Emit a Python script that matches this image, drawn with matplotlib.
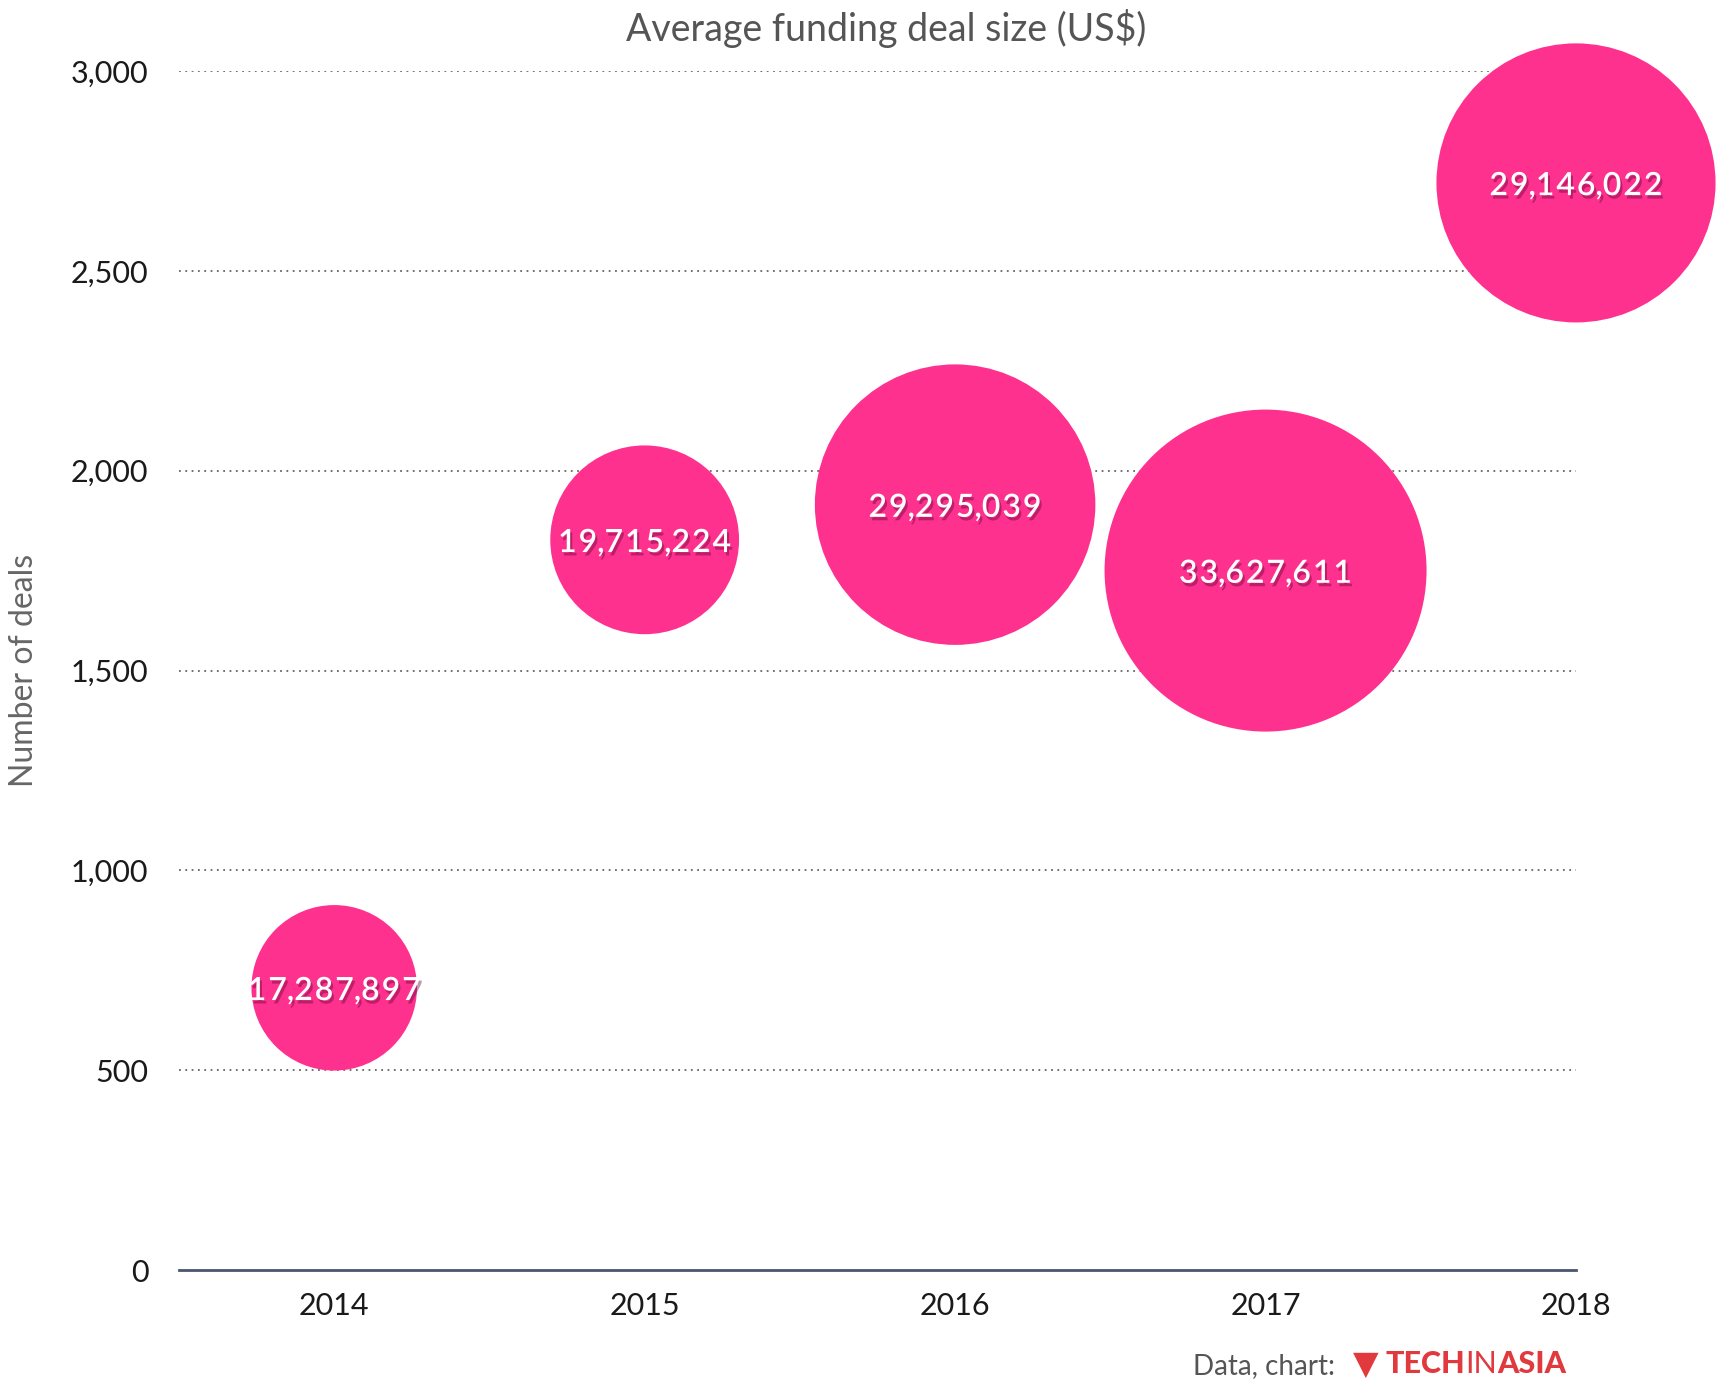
import numpy as np
import matplotlib
matplotlib.use("Agg")
import matplotlib.pyplot as plt
import matplotlib.patheffects as pe
from matplotlib.ticker import FuncFormatter

years = ["2014", "2015", "2016", "2017", "2018"]
deals = [706, 1827, 1915, 1750, 2720]
avg_deal = [17287897, 19715224, 29295039, 33627611, 29146022]
y_ticks = [0, 500, 1000, 1500, 2000, 2500, 3000]

W, H, DPI = 1722, 1396, 100
fig = plt.figure(figsize=(W / DPI, H / DPI), dpi=DPI)
ax = fig.add_axes([179 / W, 1 - 1270 / H, (1576 - 179) / W, (1270 - 71) / H])

x = np.arange(len(years))
vals = np.array(avg_deal, dtype=float)
R_MAX_PX = 161.0
r_px = vals / vals.max() * R_MAX_PX
sizes = (2 * r_px * 72 / DPI) ** 2
ax.scatter(x, deals, s=sizes, color="#ff318f", edgecolors="none", clip_on=False, zorder=3)

for xi, yi, v in zip(x, deals, avg_deal):
    ax.text(xi, yi - 8, " ".join(f"{v:,}").replace(" , ", ",").replace(" ", "\u200a"),
            ha="center", va="center", color="white",
            fontsize=23, fontfamily=["Lato", "DejaVu Sans"], fontweight="semibold", zorder=4,
            path_effects=[pe.withSimplePatchShadow(offset=(1.5, -2.5), shadow_rgbFace="#5a0030", alpha=0.4)])

ax.set_xlim(-0.5, 4)
ax.set_ylim(0, 3000)
ax.set_xticks(x)
ax.set_xticklabels(years)
ax.set_yticks(y_ticks)
ax.yaxis.set_major_formatter(FuncFormatter(lambda v, p: f"{int(v):,}"))
ax.tick_params(axis="both", length=0, labelsize=22, labelcolor="#1a1a1a")
ax.tick_params(axis="y", pad=22)
ax.tick_params(axis="x", pad=16)
for lab in ax.get_xticklabels() + ax.get_yticklabels():
    lab.set_fontfamily("Lato")
    lab.set_fontweight("normal")

for yt in y_ticks[1:]:
    ax.axhline(yt, color="#666666", lw=1.3, ls=(0, (1, 2.5)), zorder=1)

for s in ["top", "right", "left"]:
    ax.spines[s].set_visible(False)
ax.spines["bottom"].set_color("#4a5570")
ax.spines["bottom"].set_linewidth(2)

fig.text(24 / W, 1 - 670 / H, "Number of deals", rotation=90, ha="center", va="center",
         fontsize=23, color="#666666", fontfamily="Lato", fontweight="normal")

fig.text(0.5 * (179 + 1576) / W + 0.005, 1 - 28 / H, "Average funding deal size (US$)",
         ha="center", va="center", fontsize=27, color="#555555",
         fontfamily="Lato", fontweight="normal")

fig.text(1335 / W, 1 - 1366 / H, "Data, chart:", ha="right", va="center",
         fontsize=20, color="#555555", fontfamily="Lato", fontweight="normal")
fig.text(1366 / W, 1 - 1364 / H, "\u25BC", ha="center", va="center",
         fontsize=24, color="#e0393e", fontfamily="DejaVu Sans")
t1 = fig.text(1386 / W, 1 - 1364 / H, "TECH", ha="left", va="center",
              fontsize=22, color="#e0393e", fontfamily="Lato", fontweight="black")
fig.canvas.draw()
bb = t1.get_window_extent()
t2 = fig.text(bb.x1 / W, 1 - 1364 / H, "IN", ha="left", va="center",
              fontsize=22, color="#e0393e", fontfamily="Lato", fontweight="normal")
fig.canvas.draw()
bb2 = t2.get_window_extent()
fig.text(bb2.x1 / W, 1 - 1364 / H, "ASIA", ha="left", va="center",
         fontsize=22, color="#e0393e", fontfamily="Lato", fontweight="black")

fig.savefig("out.png", dpi=DPI, facecolor="white")
